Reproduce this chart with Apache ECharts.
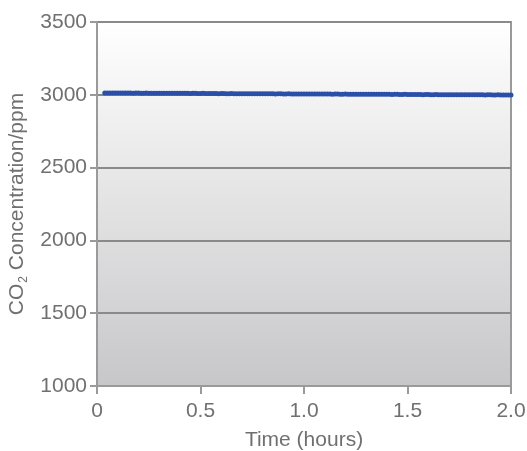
<!DOCTYPE html>
<html>
<head>
<meta charset="utf-8">
<script src="https://cdn.jsdelivr.net/npm/echarts@6/dist/echarts.min.js"></script>
<style>
  html, body { margin: 0; padding: 0; background: #fff; }
  #main { width: 527px; height: 451px; }
</style>
</head>
<body>
<div id="main"></div>
<script>
// time in hours, one reading every 45 s
const times = [
  0.0375, 0.05, 0.0625, 0.075, 0.0875, 0.1, 0.1125, 0.125, 0.1375, 0.15,
  0.1625, 0.175, 0.1875, 0.2, 0.2125, 0.225, 0.2375, 0.25, 0.2625, 0.275,
  0.2875, 0.3, 0.3125, 0.325, 0.3375, 0.35, 0.3625, 0.375, 0.3875, 0.4,
  0.4125, 0.425, 0.4375, 0.45, 0.4625, 0.475, 0.4875, 0.5, 0.5125, 0.525,
  0.5375, 0.55, 0.5625, 0.575, 0.5875, 0.6, 0.6125, 0.625, 0.6375, 0.65,
  0.6625, 0.675, 0.6875, 0.7, 0.7125, 0.725, 0.7375, 0.75, 0.7625, 0.775,
  0.7875, 0.8, 0.8125, 0.825, 0.8375, 0.85, 0.8625, 0.875, 0.8875, 0.9,
  0.9125, 0.925, 0.9375, 0.95, 0.9625, 0.975, 0.9875, 1.0, 1.0125, 1.025,
  1.0375, 1.05, 1.0625, 1.075, 1.0875, 1.1, 1.1125, 1.125, 1.1375, 1.15,
  1.1625, 1.175, 1.1875, 1.2, 1.2125, 1.225, 1.2375, 1.25, 1.2625, 1.275,
  1.2875, 1.3, 1.3125, 1.325, 1.3375, 1.35, 1.3625, 1.375, 1.3875, 1.4,
  1.4125, 1.425, 1.4375, 1.45, 1.4625, 1.475, 1.4875, 1.5, 1.5125, 1.525,
  1.5375, 1.55, 1.5625, 1.575, 1.5875, 1.6, 1.6125, 1.625, 1.6375, 1.65,
  1.6625, 1.675, 1.6875, 1.7, 1.7125, 1.725, 1.7375, 1.75, 1.7625, 1.775,
  1.7875, 1.8, 1.8125, 1.825, 1.8375, 1.85, 1.8625, 1.875, 1.8875, 1.9,
  1.9125, 1.925, 1.9375, 1.95, 1.9625, 1.975, 1.9875, 2.0
];
// CO2 concentration, ppm
const co2 = [
  3013, 3013, 3012, 3013, 3012, 3012, 3013, 3012, 3012, 3012,
  3012, 3011, 3012, 3012, 3011, 3011, 3012, 3011, 3011, 3011,
  3011, 3011, 3010, 3011, 3011, 3010, 3010, 3011, 3010, 3010,
  3010, 3010, 3010, 3009, 3010, 3010, 3009, 3009, 3010, 3009,
  3009, 3009, 3009, 3009, 3008, 3009, 3009, 3008, 3008, 3009,
  3008, 3008, 3008, 3008, 3008, 3007, 3008, 3008, 3007, 3007,
  3008, 3007, 3007, 3007, 3007, 3007, 3006, 3007, 3007, 3006,
  3006, 3007, 3006, 3006, 3006, 3006, 3006, 3005, 3006, 3006,
  3005, 3005, 3006, 3005, 3005, 3005, 3005, 3005, 3004, 3005,
  3005, 3004, 3004, 3005, 3004, 3004, 3004, 3004, 3004, 3003,
  3004, 3004, 3003, 3003, 3004, 3003, 3003, 3003, 3003, 3003,
  3003, 3002, 3003, 3003, 3002, 3002, 3003, 3002, 3002, 3002,
  3002, 3002, 3002, 3001, 3002, 3002, 3001, 3001, 3002, 3001,
  3001, 3001, 3001, 3001, 3001, 3000, 3001, 3001, 3000, 3000,
  3001, 3000, 3000, 3000, 3000, 3000, 3000, 2999, 3000, 3000,
  2999, 2999, 3000, 2999, 2999, 2999, 2999, 2999
];
const xTickLabels = ['0', '0.5', '1.0', '1.5', '2.0'];

const chart = echarts.init(document.getElementById('main'));
const txt = '#707070';
const font = 'Liberation Sans, Arial, sans-serif';
const fs = 21;

chart.setOption({
  animation: false,
  grid: {
    left: 97, right: 16, top: 22, bottom: 65,
    containLabel: false,
    outerBoundsMode: 'none',
    show: true,
    borderColor: '#9a9a9a',
    borderWidth: 2,
    backgroundColor: {
      type: 'linear', x: 0, y: 0, x2: 0, y2: 1,
      colorStops: [
        { offset: 0, color: '#ffffff' },
        { offset: 1, color: '#c7c7c9' }
      ]
    }
  },
  xAxis: {
    type: 'value',
    min: 0, max: 2, interval: 0.5,
    name: 'Time (hours)',
    nameLocation: 'middle',
    nameGap: 44,
    nameTextStyle: { color: txt, fontSize: fs, fontFamily: font },
    axisLine: { lineStyle: { color: '#9a9a9a', width: 2 } },
    axisTick: { show: true, length: 8, lineStyle: { color: '#9a9a9a', width: 2 } },
    axisLabel: {
      color: txt, fontSize: fs, fontFamily: font, margin: 15,
      formatter: v => xTickLabels[Math.round(v / 0.5)]
    },
    splitLine: { show: false }
  },
  yAxis: {
    type: 'value',
    min: 1000, max: 3500, interval: 500,
    name: '{a|CO}{s|2}{a| Concentration/ppm}',
    nameLocation: 'middle',
    nameGap: 61,
    nameTextStyle: {
      rich: {
        a: { color: txt, fontSize: fs, fontFamily: font },
        s: { color: txt, fontSize: 12, fontFamily: font, padding: [12, 0, 0, 1] }
      }
    },
    axisLine: { show: true, lineStyle: { color: '#9a9a9a', width: 2 } },
    axisTick: { show: true, length: 7, lineStyle: { color: '#9a9a9a', width: 2 } },
    axisLabel: {
      color: txt, fontSize: fs, fontFamily: font, margin: 10,
      formatter: v => String(v)
    },
    splitLine: { show: true, lineStyle: { color: '#8a8a8a', width: 2 } }
  },
  series: [{
    type: 'line',
    data: times.map((t, i) => [t, co2[i]]),
    symbol: 'circle',
    symbolSize: 5,
    showSymbol: true,
    itemStyle: { color: '#2b4fa8' },
    lineStyle: { color: '#2b4fa8', width: 2 }
  }]
});
</script>
</body>
</html>
